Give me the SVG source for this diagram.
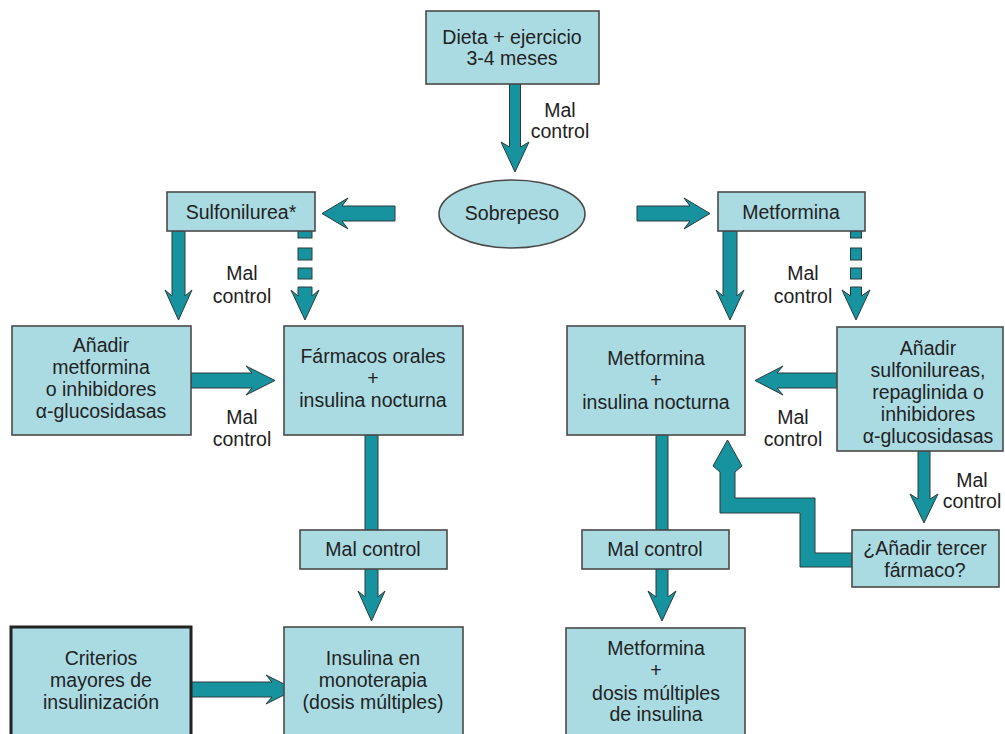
<svg xmlns="http://www.w3.org/2000/svg" width="1005" height="734" viewBox="0 0 1005 734">
<style>
.box{fill:#abdbe2;stroke:#4a4a4a;stroke-width:1.6}
.box2{fill:#abdbe2;stroke:#222;stroke-width:3}
.arr{fill:#17939f;stroke:#2a3a3c;stroke-width:1}
text{font-family:"Liberation Sans",Arial,sans-serif;font-size:19.5px;fill:#222;text-anchor:middle}
</style>
<rect width="1005" height="734" fill="#fff"/>
<g id="connectors">
<polygon class="arr" points="509.5,84 509.5,147 501,142 515,172 529,142 520.5,147 520.5,84"/>
<polygon class="arr" points="395,206 342,206 348,198 322,213.5 348,229 342,221 395,221"/>
<polygon class="arr" points="637,206 690,206 684,198 710,213.5 684,229 690,221 637,221"/>
<polygon class="arr" points="172,231 172,296 165,290 178.5,320 192,290 185,296 185,231"/>
<rect class="arr" x="298" y="231" width="14" height="7"/>
<rect class="arr" x="298" y="248" width="14" height="12"/>
<rect class="arr" x="298" y="268" width="14" height="11"/>
<polygon class="arr" points="298,287 298,296 291,290 305,320 319,290 312,296 312,287"/>
<polygon class="arr" points="191,373 252,373 246,366 275,380.5 246,395 252,388 191,388"/>
<rect class="arr" x="365" y="435" width="13" height="95"/>
<polygon class="arr" points="365,569 365,597 358,591 371.5,621 385,591 378,597 378,569"/>
<polygon class="arr" points="191,682 272,682 266,675 295,689.5 266,704 272,697 191,697"/>
<polygon class="arr" points="723,231 723,296 716,290 730,320 744,290 737,296 737,231"/>
<rect class="arr" x="850.5" y="231" width="11" height="7"/>
<rect class="arr" x="850.5" y="248" width="11" height="12"/>
<rect class="arr" x="850.5" y="268" width="11" height="11"/>
<polygon class="arr" points="850.5,287 850.5,296 842,290 856,320 870,290 861.5,296 861.5,287"/>
<polygon class="arr" points="837,373 777,373 783,366 755,380.5 783,395 777,388 837,388"/>
<rect class="arr" x="656" y="435" width="12" height="95"/>
<polygon class="arr" points="656,569 656,597 648,591 662,621 676,591 668,597 668,569"/>
<polygon class="arr" points="918,451 918,499 910,494 924,523 938,494 930,499 930,451"/>
<polygon class="arr" points="852,553 815,553 815,498 735,498 735,472 742,466 727.5,440 713,466 720,472 720,513 800,513 800,567 852,567"/>
</g>
<g id="n-dieta"><rect class="box" x="426" y="11" width="173" height="73"/><text x="512" y="44">Dieta + ejercicio</text><text x="512" y="65">3-4 meses</text></g>
<g id="l-mal1"><text x="560" y="117">Mal</text><text x="560" y="138">control</text></g>
<g id="n-sobrepeso"><ellipse cx="512" cy="214" rx="73" ry="34" fill="#abdbe2" stroke="#4a4a4a" stroke-width="1.6"/><text x="512" y="220">Sobrepeso</text></g>
<g id="n-sulfonilurea"><rect class="box" x="167" y="192" width="148" height="39"/><text x="241" y="219">Sulfonilurea*</text></g>
<g id="n-metformina"><rect class="box" x="718" y="192" width="147" height="39"/><text x="791" y="219">Metformina</text></g>
<g id="l-mal2"><text x="242" y="280">Mal</text><text x="242" y="303">control</text></g>
<g id="l-mal3"><text x="803" y="280">Mal</text><text x="803" y="303">control</text></g>
<g id="n-anadir-met"><rect class="box" x="12" y="326" width="179" height="109"/><text x="101" y="352">Añadir</text><text x="101" y="374">metformina</text><text x="101" y="396">o inhibidores</text><text x="101" y="418">α-glucosidasas</text></g>
<g id="n-farmacos"><rect class="box" x="284" y="326" width="179" height="109"/><text x="373" y="363">Fármacos orales</text><text x="373" y="385">+</text><text x="373" y="407">insulina nocturna</text></g>
<g id="l-mal4"><text x="242" y="424">Mal</text><text x="242" y="446">control</text></g>
<g id="n-met-ins"><rect class="box" x="567" y="326" width="178" height="109"/><text x="656" y="365">Metformina</text><text x="656" y="387">+</text><text x="656" y="409">insulina nocturna</text></g>
<g id="n-anadir-sulf"><rect class="box" x="837" y="327" width="166" height="124"/><text x="928" y="355">Añadir</text><text x="928" y="377">sulfonilureas,</text><text x="928" y="399">repaglinida o</text><text x="928" y="421">inhibidores</text><text x="928" y="443">α-glucosidasas</text></g>
<g id="l-mal5"><text x="793" y="424">Mal</text><text x="793" y="446">control</text></g>
<g id="l-mal6"><text x="972" y="487">Mal</text><text x="972" y="508">control</text></g>
<g id="n-malcontrol-l"><rect class="box" x="300" y="530" width="147" height="39"/><text x="373" y="556">Mal control</text></g>
<g id="n-malcontrol-r"><rect class="box" x="582" y="530" width="147" height="39"/><text x="655" y="556">Mal control</text></g>
<g id="n-tercer"><rect class="box" x="852" y="530" width="147" height="57"/><text x="925" y="555">¿Añadir tercer</text><text x="925" y="577">fármaco?</text></g>
<g id="n-criterios"><rect class="box2" x="11" y="627" width="180" height="120"/><text x="101" y="665">Criterios</text><text x="101" y="687">mayores de</text><text x="101" y="709">insulinización</text></g>
<g id="n-insulina"><rect class="box" x="284" y="627" width="179" height="120"/><text x="373" y="665">Insulina en</text><text x="373" y="687">monoterapia</text><text x="373" y="709">(dosis múltiples)</text></g>
<g id="n-met-dosis"><rect class="box" x="566" y="628" width="179" height="120"/><text x="656" y="655">Metformina</text><text x="656" y="677">+</text><text x="656" y="700">dosis múltiples</text><text x="656" y="721">de insulina</text></g>
</svg>
